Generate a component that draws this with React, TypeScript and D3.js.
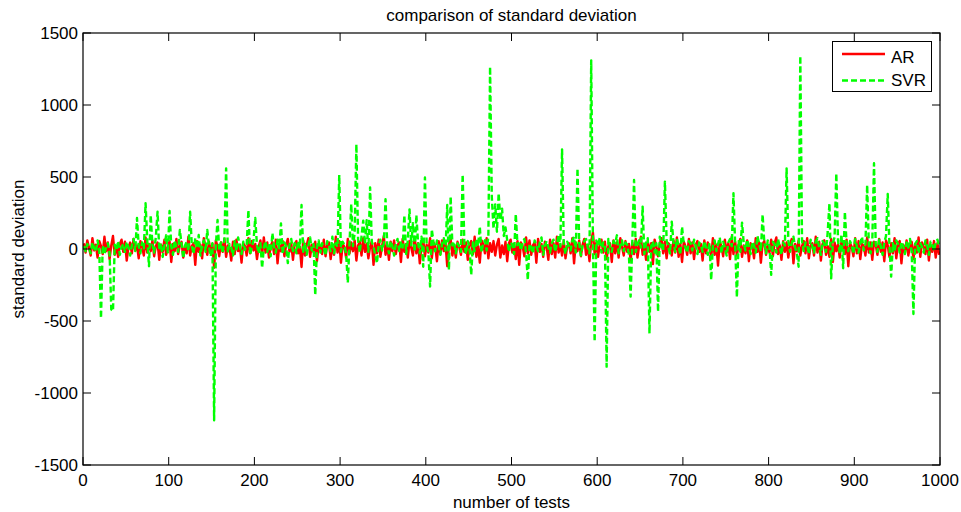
import React from "react";
import * as d3 from "d3";

// number of tests (every second test sampled)
const testNumbers: number[] = d3.range(1, 1000, 2);

const arValues: number[] = [
  40, -25, 60, 10, -45, 75, -10, 30, -60, 55, 20, -35, 85, -15, 45, -70, 25, 90, -40, 15,
  -55, 35, 65, -20, 50, -80, 10, 45, -30, 70, -10, 25, -65, 55, 15, -45, 80, -25, 35, -15,
  60, -50, 20, 45, -75, 30, -20, 65, -40, 10, 55, -90, 35, -15, 70, -35, 25, 50, -60, 15,
  -30, 85, -45, 20, 40, -110, 55, -20, 30, -65, 75, 10, -40, 50, -25, 35, -130, 60, 15, -50,
  45, -20, 70, -55, 25, 10, -80, 50, -35, 65, -15, 30, -95, 40, 20, -45, 75, -30, 55, -10,
  35, -70, 15, 60, -40, 80, -25, 45, -60, 20, 50, -35, 65, -100, 30, -15, 55, -50, 25, 70,
  -20, 40, -75, 35, 55, -30, 15, -125, 60, -45, 25, 75, -55, 30, -20, 50, -85, 40, 10, -35,
  65, -50, 30, 45, -70, 20, -40, 85, -25, 55, -95, 35, 15, -60, 70, -30, 45, -15, 60, -80,
  25, 50, -45, 75, -20, 35, -65, 15, 55, -110, 40, -30, 65, -55, 20, 90, -40, 30, -75, 50,
  -15, 60, -35, 25, 45, -90, 70, -20, 35, -60, 55, 10, -45, 80, -30, 40, -100, 25, 65, -50,
  30, -25, 75, -65, 45, 20, -85, 55, -35, 60, -15, 40, -120, 35, 70, -45, 25, -60, 50, 15,
  -40, 65, -20, 45, -75, 30, 55, -35, 85, -55, 20, -95, 60, 35, -30, 75, -65, 40, -20, 55,
  -45, 30, 70, -60, 25, -35, 50, -85, 40, 65, -25, 35, -70, 55, -110, 45, 20, -50, 80, -30,
  60, -40, 25, 45, -95, 70, -20, 35, -55, 50, 15, -75, 65, -35, 40, -60, 85, -25, 30, -45,
  55, -65, 20, 40, -30, 75, -100, 45, -15, 60, -50, 30, 70, -40, 25, -85, 55, 115, -35, 45,
  -55, 35, 65, -25, 50, -70, 20, 40, -90, 60, -30, 45, -60, 75, 15, -45, 55, -20, 35, -80,
  45, -35, 70, -60, 25, 85, -40, 30, -75, 55, -20, 40, -105, 65, 20, -50, 35, 75, -30, 50,
  -65, 40, 25, -45, 60, -25, 80, -55, 35, -90, 50, 20, -40, 70, -30, 45, -70, 30, 55, -20,
  35, -80, 60, -30, 45, 20, -60, 75, -40, 30, -115, 55, 15, -50, 65, -25, 40, -70, 85, -35,
  50, -45, 30, 70, -55, 25, -30, 60, -85, 40, 20, -65, 75, -20, 45, -95, 35, 55, -40, 30,
  -25, 65, -50, 40, 80, -35, 25, -75, 55, -20, 45, -60, 30, 70, -100, 35, -15, 60, -45, 20,
  55, -30, 75, -65, 25, 40, -45, 85, -25, 50, -80, 35, 60, -40, 20, -55, 70, -90, 45, -15,
  30, -60, 50, 25, -35, 65, -120, 40, 15, -50, 75, -30, 55, -70, 35, 20, -45, 80, -25, 45,
  -75, 50, 30, -40, 70, -20, 45, -85, 60, 25, -55, 40, -30, 75, -65, 35, 55, -100, 30, -25,
  60, -45, 20, 50, -70, 35, -25, 80, -55, 45, 15, -35, 65, -80, 30, -20, 55, -60, 40, -40,
];

const svrValues: number[] = [
  20, -15, 35, 10, -30, 45, 5, -20, 60, -10, -481, 25, -35, 15, 40, -25, -420, -431, 30, -10,
  55, -40, 10, 35, -20, 50, 15, -45, 25, 70, -15, 215, 20, -30, 45, 5, 318, 60, -120, 236,
  30, -25, 85, 259, -10, 40, -55, 20, 95, -30, 264, 15, -40, 60, 10, -20, 132, 35, -65, 25,
  50, -15, 259, 20, -35, 75, 5, 97, -45, 30, 60, -20, 132, 15, -50, 40, -1190, 25, 201, -10,
  45, -30, 70, 560, -25, 35, 10, -45, 55, -15, 80, 20, -35, 50, -5, 30, 271, -40, 15, 60,
  215, 25, -30, 40, -132, 10, 55, -20, 35, -50, 111, 15, -25, 65, 5, 178, -35, 45, 20, -98,
  30, 70, -15, 40, -30, 55, 10, 306, -20, 45, -40, 25, 80, -10, 35, -320, 15, 60, -25, 40,
  10, -45, 55, 25, -15, 85, -30, 40, 15, 514, -20, 50, 30, -35, -234, 45, 312, 20, 110, 727,
  60, -25, 90, 197, 35, 200, -20, 428, 50, 15, -40, -98, 25, 65, -10, 40, 345, 30, -30, 55,
  20, -45, 35, 70, -15, 45, 10, 236, -35, 60, 275, 25, 180, -20, 236, 40, -30, 85, -123, 497,
  30, -25, -261, 137, 45, -15, 60, 20, -40, 35, 75, -10, 306, -146, 364, 25, 50, -30, 40, 15,
  -20, 518, 35, -35, 55, 10, -180, 45, -15, 70, 20, 155, -25, 40, 60, -10, 85, 1266, 364, 140,
  310, 120, 387, 200, 280, 90, 150, 60, -20, 45, 30, -35, 243, 25, 55, -10, 40, 70, -25, -215,
  35, 15, -30, 60, 20, -15, 45, 80, -40, 25, 55, 10, -25, 40, 65, -20, 35, 100, 15, 692,
  30, -35, 50, 20, -10, 60, 85, -25, 560, 40, -45, 25, 55, 70, 10, -30, 1310, 45, -644, 60,
  20, 80, -25, 45, 35, -817, 70, 15, -20, 55, 40, 95, -30, 25, 60, -15, 45, 30, -40, -331,
  50, 479, -20, 35, 60, 10, 294, -35, 45, 75, -586, 20, 55, -25, 40, -435, 85, 30, -15, 468,
  60, 15, -30, 190, 45, -20, 70, 25, -40, 155, 35, 10, -25, 55, 40, -10, 65, 20, -35, 45,
  30, -20, 55, 15, -40, 40, -215, 25, 60, -15, 35, 80, -30, 50, 10, -45, 45, 70, 20, 387,
  30, -336, 55, -20, 183, 40, -10, 65, 15, -35, 50, 25, -25, 90, 35, -15, 240, 45, -30, 60,
  20, -180, 50, 35, -25, 70, 15, -40, 45, 25, 560, 60, -20, 40, 85, 10, -30, -123, 1340, 55,
  -15, 45, 30, -35, 65, 20, -25, 50, 75, 10, -40, 55, 35, -20, 120, 317, -204, 45, 80, 525,
  60, -30, 100, -134, 259, 40, -15, 55, 25, -35, 70, 15, -25, 45, 85, -10, 35, 444, 20, -30,
  50, 595, 30, -20, 65, 15, -40, 45, 90, 382, 25, -192, 40, -15, 60, 35, -25, 50, 20, -35,
  45, 10, 70, -20, -451, 35, 55, -30, 40, 15, -25, 60, 25, -40, 50, 30, -15, 45, 65, 20,
];

const xTicks: number[] = [0, 100, 200, 300, 400, 500, 600, 700, 800, 900, 1000];
const yTicks: number[] = [-1500, -1000, -500, 0, 500, 1000, 1500];
const seriesNames: string[] = ["AR", "SVR"];
const titleText = "comparison of standard deviation";
const xLabel = "number of tests";
const yLabel = "standard deviation";

const W = 961;
const H = 512;
const L = 83;
const R = 940;
const T = 33;
const B = 465;
const FONT = "'Liberation Sans', Arial, Helvetica, sans-serif";
const FS = 17;
const TICK = 8;

export default function App() {
  const x = d3.scaleLinear().domain([0, 1000]).range([L, R]);
  const y = d3.scaleLinear().domain([-1500, 1500]).range([B, T]);

  const line = d3
    .line<number>()
    .x((_, i) => x(testNumbers[i]))
    .y((d) => y(d));

  const arPath = line(arValues) || "";
  const svrPath = line(svrValues) || "";

  return (
    <svg
      width={W}
      height={H}
      style={{ position: "fixed", left: 0, top: 0, background: "#fff" }}
      fontFamily={FONT}
    >
      <rect x={0} y={0} width={W} height={H} fill="#fff" />
      <defs>
        <clipPath id="plotClip">
          <rect x={L} y={T} width={R - L} height={B - T} />
        </clipPath>
      </defs>
      <g clipPath="url(#plotClip)">
        <path d={arPath} fill="none" stroke="#ff0000" strokeWidth={2.4} strokeLinejoin="round" />
        <path
          d={svrPath}
          fill="none"
          stroke="#00ff00"
          strokeWidth={2.4}
          strokeDasharray="6,3"
          strokeLinejoin="round"
        />
      </g>

      {/* axes box */}
      <rect x={L} y={T} width={R - L} height={B - T} fill="none" stroke="#000" strokeWidth={1.2} />

      {/* x ticks */}
      {xTicks.map((t) => (
        <g key={"x" + t}>
          <line x1={x(t)} x2={x(t)} y1={B} y2={B - TICK} stroke="#000" strokeWidth={1} />
          <line x1={x(t)} x2={x(t)} y1={T} y2={T + TICK} stroke="#000" strokeWidth={1} />
          <text x={x(t)} y={486} textAnchor="middle" fontSize={FS} fill="#000">
            {t}
          </text>
        </g>
      ))}

      {/* y ticks */}
      {yTicks.map((t) => (
        <g key={"y" + t}>
          <line x1={L} x2={L + TICK} y1={y(t)} y2={y(t)} stroke="#000" strokeWidth={1} />
          <line x1={R} x2={R - TICK} y1={y(t)} y2={y(t)} stroke="#000" strokeWidth={1} />
          <text x={L - 5} y={y(t) + 6} textAnchor="end" fontSize={FS} fill="#000">
            {t}
          </text>
        </g>
      ))}

      {/* title and labels */}
      <text x={(L + R) / 2} y={21} textAnchor="middle" fontSize={FS} fill="#000">
        {titleText}
      </text>
      <text x={(L + R) / 2} y={508} textAnchor="middle" fontSize={FS} fill="#000">
        {xLabel}
      </text>
      <text
        transform={`translate(24, ${(T + B) / 2}) rotate(-90)`}
        textAnchor="middle"
        fontSize={FS}
        fill="#000"
      >
        {yLabel}
      </text>

      {/* legend */}
      <g>
        <rect x={832.5} y={41.5} width={99} height={50} fill="#fff" stroke="#000" strokeWidth={1} />
        <line x1={842} x2={885} y1={54} y2={54} stroke="#ff0000" strokeWidth={2.4} />
        <text x={891} y={63} fontSize={FS} fill="#000">
          {seriesNames[0]}
        </text>
        <line
          x1={842}
          x2={885}
          y1={80.5}
          y2={80.5}
          stroke="#00ff00"
          strokeWidth={2.4}
          strokeDasharray="6,3"
        />
        <text x={891} y={86} fontSize={FS} fill="#000">
          {seriesNames[1]}
        </text>
      </g>
    </svg>
  );
}
